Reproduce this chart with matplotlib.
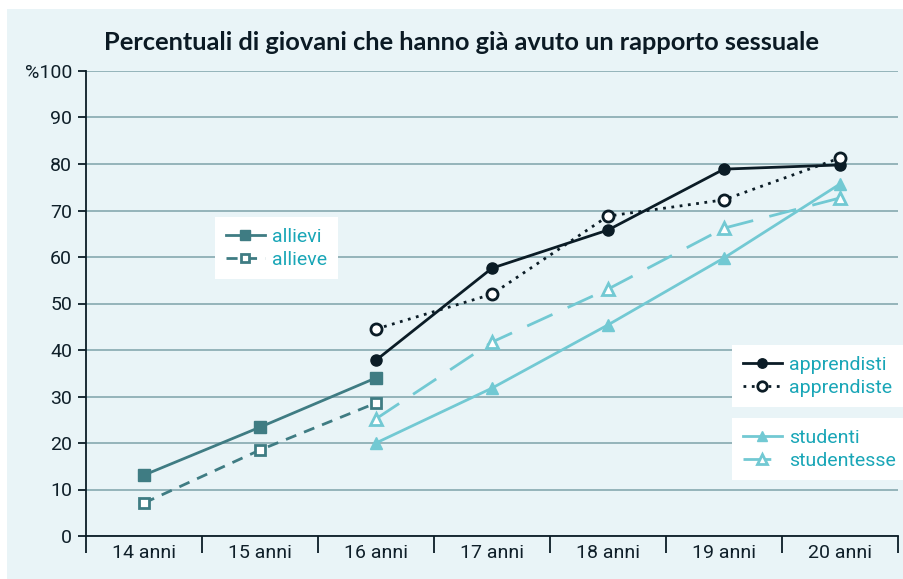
import matplotlib
matplotlib.use("Agg")
import matplotlib.pyplot as plt
from matplotlib.patches import Rectangle
import numpy as np

categories = ["14 anni", "15 anni", "16 anni", "17 anni", "18 anni", "19 anni", "20 anni"]
allievi = [13.1, 23.4, 34.0, None, None, None, None]
allieve = [7.1, 18.5, 28.6, None, None, None, None]
apprendisti = [None, None, 37.8, 57.6, 65.8, 78.9, 79.8]
apprendiste = [None, None, 44.5, 52.0, 68.8, 72.3, 81.3]
studenti = [None, None, 20.0, 31.8, 45.4, 59.8, 75.7]
studentesse = [None, None, 25.2, 41.7, 53.1, 66.2, 72.7]
yticks = [0, 10, 20, 30, 40, 50, 60, 70, 80, 90, 100]
ytick_labels = ["0", "10", "20", "30", "40", "50", "60", "70", "80", "90", "%100"]
title = "Percentuali di giovani che hanno già avuto un rapporto sessuale"

C_ALL = "#3f7c83"
C_APP = "#0b1c26"
C_STU = "#72c9d3"
C_TXT = "#19a6b7"
C_GRID = "#86a9af"
C_BG = "#e9f4f7"

FONT = ["Roboto", "DejaVu Sans"]
plt.rcParams['font.family'] = FONT

fig = plt.figure(figsize=(9.04, 5.79), dpi=100, facecolor="white")
fig.patches.append(Rectangle((7/904, 0), 1, 1 - 9/579, transform=fig.transFigure,
                             facecolor=C_BG, edgecolor="none", zorder=-10))
ax = fig.add_axes([86/904, 1 - 536/579, (898-86)/904, (536-71)/579])
ax.set_facecolor("none")

x = np.arange(len(categories))

def series(vals):
    xs = [xi for xi, v in zip(x, vals) if v is not None]
    ys = [v for v in vals if v is not None]
    return xs, ys

h = {}
xs, ys = series(allievi)
h['allievi'], = ax.plot(xs, ys, color=C_ALL, lw=2, marker="s", ms=8, mfc=C_ALL, mec=C_ALL, zorder=3)
xs, ys = series(allieve)
h['allieve'], = ax.plot(xs, ys, color=C_ALL, lw=2, ls=(0, (4, 3)), marker="s", ms=7, mfc="white", mec=C_ALL, mew=2, zorder=3)
xs, ys = series(apprendisti)
h['apprendisti'], = ax.plot(xs, ys, color=C_APP, lw=2, marker="o", ms=8, mfc=C_APP, mec=C_APP, zorder=4)
xs, ys = series(apprendiste)
h['apprendiste'], = ax.plot(xs, ys, color=C_APP, lw=2, ls=(0, (1, 2)), marker="o", ms=8, mfc="white", mec=C_APP, mew=2, zorder=4)
xs, ys = series(studenti)
h['studenti'], = ax.plot(xs, ys, color=C_STU, lw=2, marker="^", ms=9, mfc=C_STU, mec=C_STU, zorder=3)
xs, ys = series(studentesse)
h['studentesse'], = ax.plot(xs, ys, color=C_STU, lw=2, ls=(0, (10, 6)), marker="^", ms=9, mfc="white", mec=C_STU, mew=2, zorder=3)

ax.set_xlim(-0.5, len(categories) - 0.5)
ax.set_ylim(0, 100)
ax.set_yticks(yticks)
ax.set_yticklabels(ytick_labels)
ax.set_xticks(x)
ax.set_xticklabels(categories)
ax.set_xticks(np.arange(-0.5, len(categories), 1), minor=True)
ax.tick_params(axis="x", which="major", length=0, pad=6, labelsize=14, labelcolor="#0f1f29")
ax.tick_params(axis="x", which="minor", length=12, width=1.3, color=C_APP, direction="out")
ax.tick_params(axis="y", length=6, width=1.3, color=C_APP, labelsize=14, labelcolor="#0f1f29", pad=4)
ax.yaxis.grid(True, color=C_GRID, lw=1.2)
ax.set_axisbelow(True)
for s in ["top", "right"]:
    ax.spines[s].set_visible(False)
for s in ["left", "bottom"]:
    ax.spines[s].set_color(C_APP)
    ax.spines[s].set_linewidth(1.3)

fig.text(461/904, 1 - 42/579, title, ha="center", va="center", fontsize=18.3, fontweight="bold",
         color="#0b1a24", family=["Lato", "DejaVu Sans"])

def make_legend(keys, bbox):
    leg = ax.legend([h[k] for k in keys], keys, loc="upper left", bbox_to_anchor=bbox,
                    bbox_transform=fig.transFigure, frameon=True, fancybox=False,
                    framealpha=1, edgecolor="white", facecolor="white", fontsize=14,
                    handlelength=2.0, handletextpad=0.4, borderpad=0.55, borderaxespad=0,
                    labelspacing=0.25, markerscale=0.85)
    leg.get_frame().set_linewidth(0)
    for t in leg.get_texts():
        t.set_color(C_TXT)
    return leg

l1 = make_legend(["allievi", "allieve"], (215/904, 1 - 217/579))
ax.add_artist(l1)
l2 = make_legend(["apprendisti", "apprendiste"], (732/904, 1 - 345/579))
ax.add_artist(l2)
l3 = make_legend(["studenti", "studentesse"], (732/904, 1 - 418/579))

fig.savefig("out.png", dpi=100, facecolor=fig.get_facecolor())
